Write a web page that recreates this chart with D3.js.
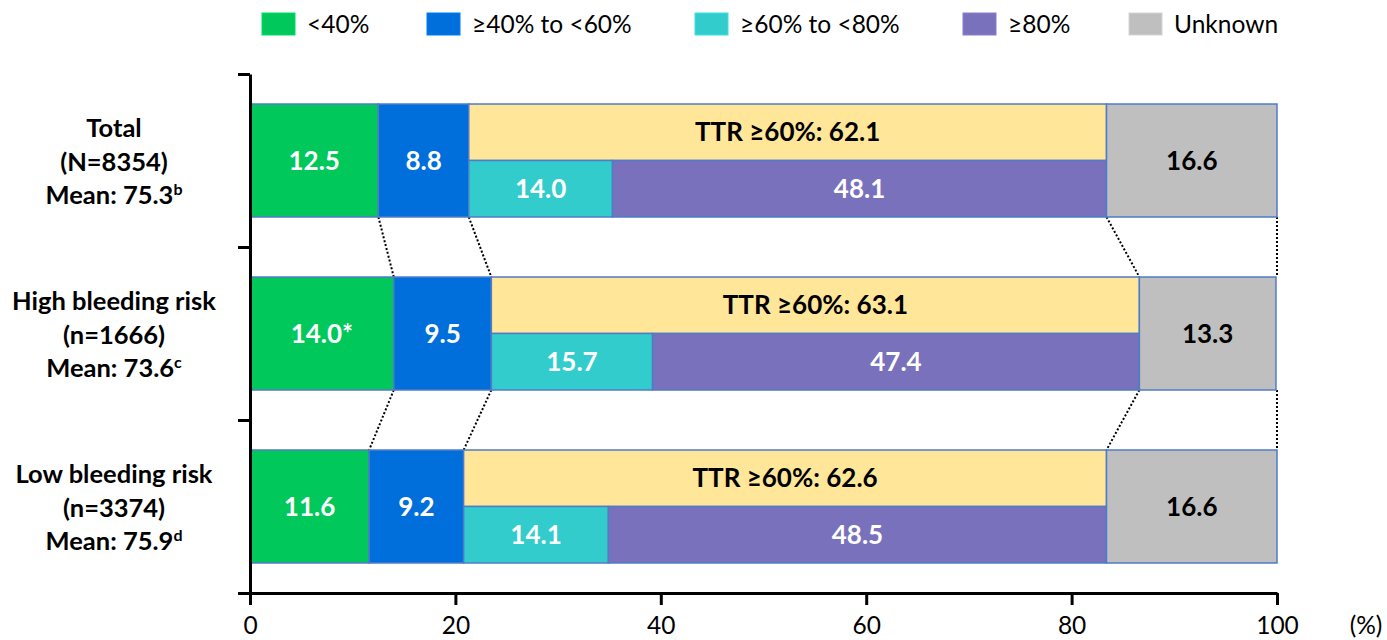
<!DOCTYPE html>
<html>
<head>
<meta charset="utf-8">
<script src="https://cdn.jsdelivr.net/npm/d3@7"></script>
<style>
  html, body { margin: 0; padding: 0; background: #fff; }
  svg { display: block; font-family: Lato, "Noto Sans", sans-serif; }
</style>
</head>
<body>
<svg id="chart" width="1387" height="640"></svg>
<script>
// ---- data ----
const groups = ["Total", "High bleeding risk", "Low bleeding risk"];
const groupN = ["(N=8354)", "(n=1666)", "(n=3374)"];
const groupMean = ["Mean: 75.3", "Mean: 73.6", "Mean: 75.9"];
const groupMeanSup = ["b", "c", "d"];
const lt40 = [12.5, 14.0, 11.6];
const lt40Labels = ["12.5", "14.0*", "11.6"];
const from40to60 = [8.8, 9.5, 9.2];
const from60to80 = [14.0, 15.7, 14.1];
const ge80 = [48.1, 47.4, 48.5];
const unknown = [16.6, 13.3, 16.6];
const ttr60 = [62.1, 63.1, 62.6];
const xTicks = [0, 20, 40, 60, 80, 100];
const legendLabels = ["<40%", "\u226540% to <60%", "\u226560% to <80%", "\u226580%", "Unknown"];

// ---- styles ----
const colors = ["#00C85A", "#006FDC", "#33CCCC", "#7A71BC", "#BFBFBF"];
const ttrColor = "#FFE699";
const edge = "#4F7BC9";

const svg = d3.select("#chart");
const x = d3.scaleLinear().domain([0, 100]).range([250, 1277]);
const y = d3.scaleBand().domain(groups).range([74, 593]).paddingInner(0.347).paddingOuter(0.1735);
const yEdges = d3.scaleLinear().domain([0, groups.length]).range([74, 593]);

// connectors (drawn first, below bars)
const bounds = groups.map((g, i) => [lt40[i], lt40[i] + from40to60[i], lt40[i] + from40to60[i] + ttr60[i], 100]);
for (let i = 0; i < groups.length - 1; i++) {
  bounds[i].forEach((b, k) => {
    svg.append("line")
      .attr("x1", x(b)).attr("y1", y(groups[i]) + y.bandwidth())
      .attr("x2", x(bounds[i + 1][k])).attr("y2", y(groups[i + 1]))
      .attr("stroke", "#000").attr("stroke-width", 2).attr("stroke-dasharray", "2,2");
  });
}

// bars
groups.forEach((g, i) => {
  const top = y(g), h = y.bandwidth(), half = h / 2;
  const s0 = 0, s1 = lt40[i], s2 = s1 + from40to60[i], s3 = s2 + from60to80[i], s4 = s3 + ge80[i];
  const G = svg.append("g");
  const rect = (a, b, yy, hh, fill) => G.append("rect")
    .attr("x", x(a)).attr("y", yy).attr("width", x(a + b) - x(a)).attr("height", hh)
    .attr("fill", fill).attr("stroke", edge).attr("stroke-width", 1.5);
  rect(s0, lt40[i], top, h, colors[0]);
  rect(s1, from40to60[i], top, h, colors[1]);
  rect(s2, ttr60[i], top, half, ttrColor);
  rect(s2, from60to80[i], top + half, half, colors[2]);
  rect(s3, ge80[i], top + half, half, colors[3]);
  rect(s4, unknown[i], top, h, colors[4]);

  const label = (a, b, cy, txt, fill) => G.append("text")
    .attr("x", (x(a) + x(a + b)) / 2).attr("y", cy).attr("dy", "0.35em")
    .attr("text-anchor", "middle").attr("font-weight", 700).attr("font-size", 26)
    .attr("fill", fill).text(txt);
  label(s0, lt40[i], top + half, lt40Labels[i], "#fff");
  label(s1, from40to60[i], top + half, from40to60[i].toFixed(1), "#fff");
  label(s2, ttr60[i], top + half / 2, "TTR \u226560%: " + ttr60[i].toFixed(1), "#000");
  label(s2, from60to80[i], top + half * 1.5, from60to80[i].toFixed(1), "#fff");
  label(s3, ge80[i], top + half * 1.5, ge80[i].toFixed(1), "#fff");
  label(s4, unknown[i], top + half, unknown[i].toFixed(1), "#000");

  // category labels
  const cy = top + half;
  const T = svg.append("text").attr("text-anchor", "middle").attr("font-weight", 700)
    .attr("font-size", 25.5).attr("fill", "#000");
  T.append("tspan").attr("x", 114).attr("y", cy - 24).text(g);
  T.append("tspan").attr("x", 114).attr("y", cy + 10).text(groupN[i]);
  const m = T.append("tspan").attr("x", 114).attr("y", cy + 43);
  m.append("tspan").text(groupMean[i]);
  m.append("tspan").attr("font-size", 16).attr("dy", -9).text(groupMeanSup[i]);
});

// axes
const xAxis = svg.append("g").attr("transform", "translate(0,593)")
  .call(d3.axisBottom(x).tickValues(xTicks).tickSize(12).tickSizeOuter(0).tickPadding(12));
const yAxis = svg.append("g").attr("transform", "translate(250,0)")
  .call(d3.axisLeft(yEdges).tickValues(d3.range(groups.length + 1)).tickFormat("").tickSize(12).tickSizeOuter(0));
[xAxis, yAxis].forEach(a => {
  a.select(".domain").attr("stroke", "#000").attr("stroke-width", 3);
  a.selectAll(".tick line").attr("stroke", "#000").attr("stroke-width", 3);
});
xAxis.selectAll(".tick text").attr("font-size", 24.5).attr("fill", "#000").attr("font-family", "Lato, sans-serif");
svg.append("text").attr("x", 1366).attr("y", 593 + 24).attr("dy", "0.71em")
  .attr("text-anchor", "middle").attr("font-size", 24.5).attr("fill", "#000").text("(%)");

// legend
const legendX = [262, 427, 695, 963, 1129];
legendLabels.forEach((t, i) => {
  svg.append("rect").attr("x", legendX[i]).attr("y", 13).attr("width", 33).attr("height", 22)
    .attr("fill", colors[i]).attr("stroke", d3.color(colors[i]).brighter(0.3)).attr("stroke-width", 1);
  svg.append("text").attr("x", legendX[i] + 45).attr("y", 24).attr("dy", "0.35em")
    .attr("font-size", 24.5).attr("fill", "#000").text(t);
});
</script>
</body>
</html>
